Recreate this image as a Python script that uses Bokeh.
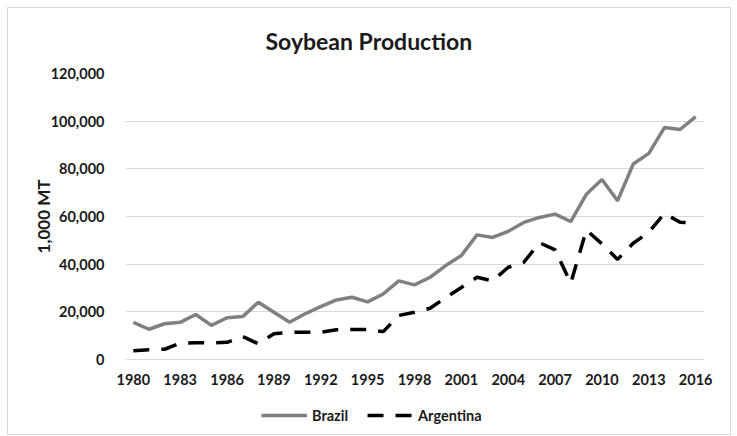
from bokeh.plotting import figure
from bokeh.layouts import column
from bokeh.models import FixedTicker, NumeralTickFormatter, Legend, LegendItem, Range1d
from bokeh.embed import file_html
from bokeh.resources import INLINE

years = list(range(1980, 2017))
brazil = [15600, 12700, 15000, 15600, 18900, 14300, 17500, 18000, 24000, 19800,
          15600, 19200, 22200, 25000, 26100, 24200, 27500, 33000, 31300, 34500,
          39400, 43600, 52300, 51200, 53800, 57500, 59600, 61000, 57900, 69300,
          75500, 66600, 82000, 86500, 97300, 96500, 101900]
argentina = [3700, 4100, 4300, 6800, 7000, 7000, 7200, 9700, 6600, 10800,
             11400, 11400, 11400, 12500, 12600, 12600, 11700, 18500, 19800, 21500,
             26000, 30200, 34500, 33000, 38700, 40800, 49000, 46000, 32000, 54300,
             48500, 42000, 48800, 53400, 61300, 57600, 57200]
tick_years = [1980, 1983, 1986, 1989, 1992, 1995, 1998, 2001, 2004, 2007, 2010, 2013, 2016]
y_ticks = [0, 20000, 40000, 60000, 80000, 100000, 120000]
series_names = ["Brazil", "Argentina"]

FONT = "Lato"
TXT = "#1a1a1a"
BRAZIL_STYLE = dict(line_color="#808080", line_width=3.5)
ARG_STYLE = dict(line_color="black", line_width=3.5, line_dash="16 12")

p = figure(width=722, height=387, output_backend="svg", toolbar_location=None,
           x_range=Range1d(1979.5, 2016.5), y_range=Range1d(0, 120000),
           min_border_left=117, min_border_right=27, min_border_top=65, min_border_bottom=36)
p.outline_line_color = None

p.title.text = "Soybean Production"
p.title.text_font = FONT
p.title.text_font_size = "23px"
p.title.text_font_style = "bold"
p.title.text_color = TXT
p.title.align = "left"
p.title.vertical_align = "top"
p.title.offset = 140
p.title.standoff = 34

p.line(years, brazil, **BRAZIL_STYLE)
p.line(years, argentina, **ARG_STYLE)

p.xgrid.grid_line_color = None
p.ygrid.grid_line_color = "#d9d9d9"
p.ygrid.grid_line_width = 1

p.yaxis.ticker = FixedTicker(ticks=y_ticks)
p.yaxis.formatter = NumeralTickFormatter(format="0,0")
p.yaxis.axis_line_color = None
p.yaxis.major_tick_line_color = None
p.yaxis.minor_tick_line_color = None
p.yaxis.major_label_standoff = 15
p.yaxis.axis_label = "1,000 MT"
p.yaxis.axis_label_standoff = -6
p.yaxis.axis_label_text_font = FONT
p.yaxis.axis_label_text_font_size = "17px"
p.yaxis.axis_label_text_font_style = "bold"
p.yaxis.axis_label_text_color = TXT

p.xaxis.ticker = FixedTicker(ticks=tick_years)
p.xaxis.axis_line_color = "#d9d9d9"
p.xaxis.major_tick_line_color = None
p.xaxis.minor_tick_line_color = None
p.xaxis.major_label_standoff = 8

for ax in (p.xaxis, p.yaxis):
    ax.major_label_text_font = FONT
    ax.major_label_text_font_size = "14.5px"
    ax.major_label_text_font_style = "bold"
    ax.major_label_text_color = TXT

# legend strip below the chart (its lines lie outside this strip's visible range)
lf = figure(width=722, height=39, output_backend="svg", toolbar_location=None,
            x_range=Range1d(0, 1), y_range=Range1d(0, 1),
            x_axis_location=None, y_axis_location=None, min_border=0)
lf.outline_line_color = None
lf.grid.grid_line_color = None
l1 = lf.line(years, brazil, **BRAZIL_STYLE)
l2 = lf.line(years, argentina, **ARG_STYLE)
legend = Legend(items=[LegendItem(label=series_names[0], renderers=[l1]),
                       LegendItem(label=series_names[1], renderers=[l2])],
                orientation="horizontal", location=(136, 9),
                glyph_width=46, glyph_height=20, label_standoff=5, spacing=19,
                padding=0, margin=0, border_line_color=None, background_fill_alpha=0,
                label_text_font=FONT, label_text_font_size="14.5px",
                label_text_font_style="bold", label_text_color=TXT)
lf.add_layout(legend, "center")

layout = column(p, lf, spacing=0,
                styles={"border": "1px solid #d9d9d9", "margin": "7px 0 0 7px"})

open("out.html", "w").write(file_html(layout, INLINE))
